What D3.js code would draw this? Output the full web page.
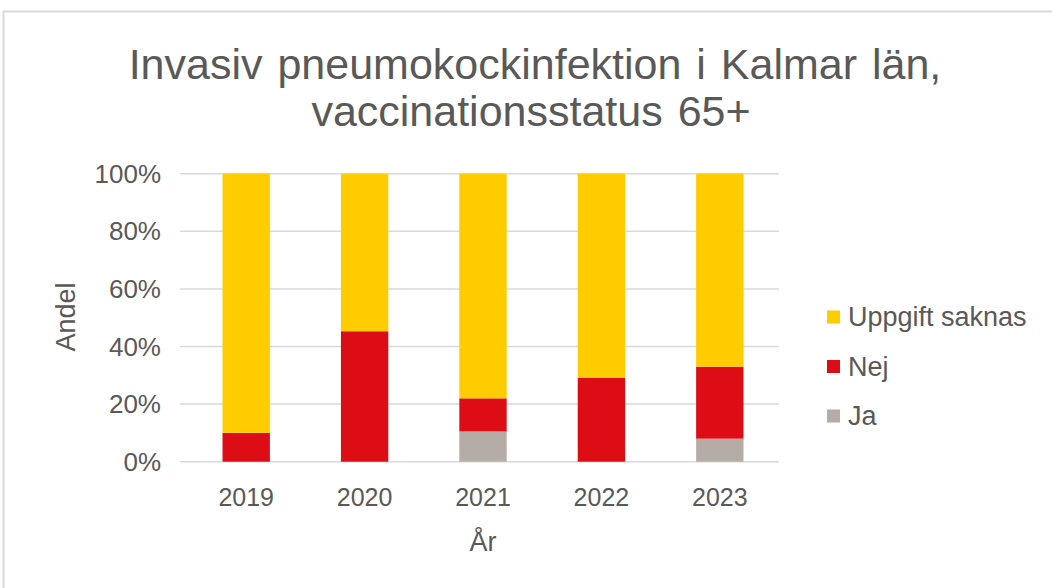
<!DOCTYPE html>
<html>
<head>
<meta charset="utf-8">
<script src="https://cdn.jsdelivr.net/npm/d3@7"></script>
<style>
  body { margin: 0; background: #fff; }
  text { font-family: Arial, "Liberation Sans", sans-serif; fill: #595959; }
</style>
</head>
<body>
<div id="chart"></div>
<script>
// Data (share of cases, %)
var years = ["2019", "2020", "2021", "2022", "2023"];
var ja = [0, 0, 10.5, 0, 8];
var nej = [10, 45.3, 11.5, 29.2, 25];
var saknas = [90, 54.7, 78, 70.8, 67];
var seriesNames = ["Ja", "Nej", "Uppgift saknas"];
var seriesColors = ["#b5ada5", "#dc0d15", "#ffcc00"];
var yTicks = [0, 20, 40, 60, 80, 100];

var width = 1052, height = 588;
var plot = {left: 187, right: 779, top: 173.7, bottom: 461.7};

var svg = d3.select("#chart").append("svg")
  .attr("width", width)
  .attr("height", height);

// Outer chart frame
svg.append("rect")
  .attr("x", 3.5).attr("y", 11.5)
  .attr("width", 1100).attr("height", 700)
  .attr("fill", "none")
  .attr("stroke", "#d9d9d9")
  .attr("stroke-width", 2);

// Title
var title = svg.append("text")
  .attr("text-anchor", "middle")
  .style("font-size", "43px")
  .style("word-spacing", "3px");
title.append("tspan").attr("x", 535).attr("y", 79).text("Invasiv pneumokockinfektion i Kalmar län,");
title.append("tspan").attr("x", 531).attr("y", 126).text("vaccinationsstatus 65+");

var x = d3.scaleBand()
  .domain(years)
  .range([plot.left, plot.right])
  .paddingInner(0.6)
  .paddingOuter(0.3);

var y = d3.scaleLinear()
  .domain([0, 100])
  .range([plot.bottom, plot.top]);

// Gridlines
svg.append("g")
  .selectAll("line")
  .data(yTicks)
  .enter().append("line")
    .attr("x1", plot.left - 7).attr("x2", plot.right)
    .attr("y1", function(d) { return y(d); })
    .attr("y2", function(d) { return y(d); })
    .attr("stroke", "#d9d9d9")
    .attr("stroke-width", 1.5);

// Y tick labels
svg.append("g")
  .selectAll("text")
  .data(yTicks)
  .enter().append("text")
    .attr("x", 161)
    .attr("y", function(d) { return y(d); })
    .attr("dy", "0.35em")
    .attr("text-anchor", "end")
    .style("font-size", "26px")
    .text(function(d) { return d + "%"; });

// Stack the series
var table = years.map(function(yr, i) {
  return {year: yr, "Ja": ja[i], "Nej": nej[i], "Uppgift saknas": saknas[i]};
});
var stacked = d3.stack().keys(seriesNames)(table);

svg.append("g")
  .selectAll("g")
  .data(stacked)
  .enter().append("g")
    .attr("fill", function(d, i) { return seriesColors[i]; })
  .selectAll("rect")
  .data(function(d) { return d; })
  .enter().append("rect")
    .attr("x", function(d) { return x(d.data.year); })
    .attr("width", x.bandwidth())
    .attr("y", function(d) { return y(d[1]); })
    .attr("height", function(d) { return y(d[0]) - y(d[1]); });

// X tick labels
svg.append("g")
  .selectAll("text")
  .data(years)
  .enter().append("text")
    .attr("x", function(d) { return x(d) + x.bandwidth() / 2; })
    .attr("y", 506)
    .attr("text-anchor", "middle")
    .style("font-size", "25px")
    .text(function(d) { return d; });

// Axis titles
svg.append("text")
  .attr("x", 483).attr("y", 551)
  .attr("text-anchor", "middle")
  .style("font-size", "27px")
  .text("År");

svg.append("text")
  .attr("transform", "translate(75,317) rotate(-90)")
  .attr("text-anchor", "middle")
  .style("font-size", "27px")
  .text("Andel");

// Legend (top to bottom: Uppgift saknas, Nej, Ja)
var legendOrder = [2, 1, 0];
var legend = svg.append("g")
  .selectAll("g")
  .data(legendOrder)
  .enter().append("g")
    .attr("transform", function(d, i) { return "translate(827," + (317 + i * 49.5) + ")"; });

legend.append("rect")
  .attr("x", 0).attr("y", -6.5)
  .attr("width", 13).attr("height", 13)
  .attr("fill", function(d) { return seriesColors[d]; });

legend.append("text")
  .attr("x", 21).attr("y", 0)
  .attr("dy", "0.35em")
  .style("font-size", "27px")
  .text(function(d) { return seriesNames[d]; });
</script>
</body>
</html>
